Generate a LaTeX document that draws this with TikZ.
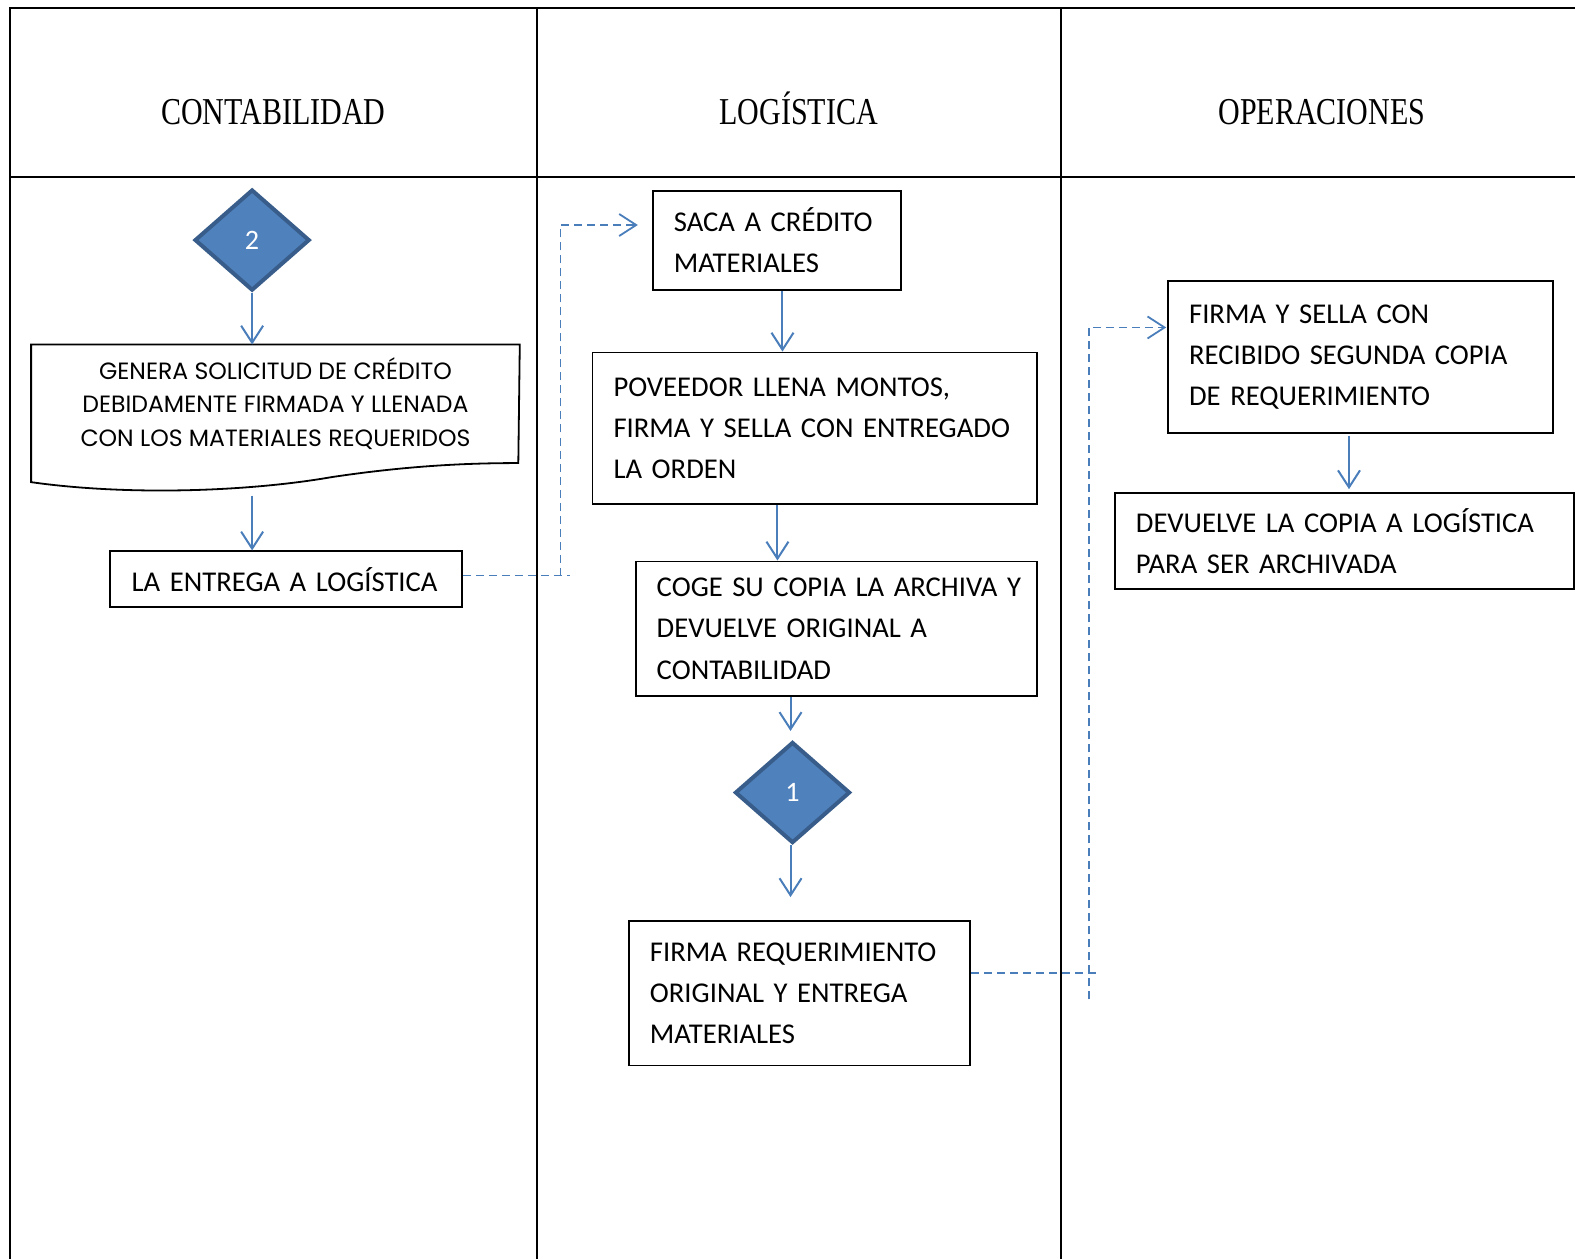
\documentclass[tikz,border=0pt]{standalone}
\usepackage{fontspec}
\setmainfont{Carlito}
\newfontfamily\headfont{Liberation Serif}
\newfontfamily\gothfont{Poppins}
\usetikzlibrary{arrows.meta,shapes.geometric,calc}
\definecolor{dfill}{HTML}{4F81BD}
\definecolor{dborder}{HTML}{385D8A}
\definecolor{ablue}{HTML}{4A7EBB}
\newcommand{\oneline}[1]{\mbox{#1}}
\begin{document}
\begin{tikzpicture}[x=0.010045cm,y=-0.010045cm,
  frame/.style={line width=0.02cm,black},
  box/.style={draw,line width=0.018cm,anchor=north west,inner xsep=0.21cm,inner ysep=0pt,align=left,
    font=\fontsize{8.15}{11.72}\selectfont},
  head/.style={anchor=base,font=\headfont\fontsize{10.8}{13}\selectfont},
  dec/.style={diamond,aspect=1.14,fill=dfill,draw=dborder,line width=0.04cm,minimum width=1.15cm,minimum height=1.01cm,inner sep=0pt,
    text=white,font=\fontsize{8}{9}\selectfont},
  arr/.style={draw=ablue,line width=0.02cm,-{Straight Barb[length=0.17cm,width=0.22cm]}},
  dline/.style={draw=ablue,line width=0.018cm,dash pattern=on 0.08cm off 0.05cm},
  darr/.style={dline,-{Straight Barb[length=0.17cm,width=0.22cm]}}
]
\useasboundingbox (0,0) rectangle (1568,1253.4);
% frame
\draw[frame] (1568,8) -- (10,8) -- (10,1253.4);
\draw[frame] (10,176) -- (1568,176);
\draw[frame] (535,8) -- (535,1253.4);
\draw[frame] (1056,8) -- (1056,1253.4);
% headers
\node[head] (h1) at (272,124) {\scalebox{0.79}[1]{CONTABILIDAD}};
\node[head] (h2) at (795,124) {\scalebox{0.79}[1]{LOGÍSTICA}};
\node[head] (h3) at (1316,124) {\scalebox{0.79}[1]{OPERACIONES}};
% contabilidad
\node[dec] (d2) at (251,239) {2};
\node[anchor=north west,minimum width=4.87cm,minimum height=1.165cm,inner sep=0pt,align=center,
  font=\gothfont\fontsize{6.7}{9.57}\selectfont] (gen) at (31,343)
  {GENERA SOLICITUD DE CRÉDITO\\DEBIDAMENTE FIRMADA Y LLENADA\\CON LOS MATERIALES REQUERIDOS};
\draw[line width=0.018cm] (gen.north west) -- (gen.north east) -- (516,461)
  .. controls (470,461) and (410,463) .. (330,475)
  .. controls (250,489) and (130,494) .. (31,480) -- cycle;
\node[box,minimum width=3.515cm,minimum height=0.56cm,text width=3.09cm] (ent) at (109,548) {\oneline{LA ENTREGA A LOGÍSTICA}};
% logistica
\node[box,minimum width=2.48cm,minimum height=0.995cm,text width=2.06cm] (saca) at (649,189) {\oneline{SACA A CRÉDITO}\\\oneline{MATERIALES}};
\node[box,minimum width=4.44cm,minimum height=1.515cm,text width=4.02cm] (pov) at (589,350) {\oneline{POVEEDOR LLENA MONTOS,}\\\oneline{FIRMA Y SELLA CON ENTREGADO}\\\oneline{LA ORDEN}};
\node[box,minimum width=4.01cm,minimum height=1.345cm,text width=3.59cm] (coge) at (632,558) {\oneline{COGE SU COPIA LA ARCHIVA Y}\\\oneline{DEVUELVE ORIGINAL A}\\\oneline{CONTABILIDAD}};
\node[dec] (d1) at (789,789) {1};
\node[box,minimum width=3.415cm,minimum height=1.445cm,text width=2.99cm] (firma) at (625,916) {\oneline{FIRMA REQUERIMIENTO}\\\oneline{ORIGINAL Y ENTREGA}\\\oneline{MATERIALES}};
% operaciones
\node[box,minimum width=3.85cm,minimum height=1.515cm,text width=3.43cm] (fys) at (1162,279) {\oneline{FIRMA Y SELLA CON}\\\oneline{RECIBIDO SEGUNDA COPIA}\\\oneline{DE REQUERIMIENTO}};
\node[box,minimum width=4.59cm,minimum height=0.955cm,text width=4.17cm] (dev) at (1109,490) {\oneline{DEVUELVE LA COPIA A LOGÍSTICA}\\\oneline{PARA SER ARCHIVADA}};
% coordinates
\coordinate (xa) at (779,0);
\coordinate (xb) at (774,0);
\coordinate (xc) at (787,0);
\coordinate (xd) at (1343,0);
\coordinate (v1) at (558,573);
\coordinate (v1end) at (567,573);
\coordinate (in1) at (635,224);
\coordinate (v2) at (1084,995);
\coordinate (v2end) at (1094,969);
\coordinate (in2) at (1161,326);
% connectors
\draw[arr] (d2.south) -- (d2.south |- gen.north);
\draw[arr] ([yshift=-0.33cm]d2.south |- gen.south) -- (d2.south |- ent.north);
\draw[dline] (ent.east |- v1) -- (v1end);
\draw[darr] (v1) |- (in1);
\draw[arr] (saca.south -| xa) -- (pov.north -| xa);
\draw[arr] (pov.south -| xb) -- (coge.north -| xb);
\draw[arr,shorten >=0.09cm] (coge.south -| xc) -- (d1.north -| xc);
\draw[arr,shorten >=0.23cm] (d1.south -| xc) -- (firma.north -| xc);
\draw[dline] (firma.east |- v2end) -- (v2end);
\draw[darr] (v2) |- (in2);
\draw[arr] ([yshift=-0.02cm]fys.south -| xd) -- ([yshift=0.03cm]dev.north -| xd);
\end{tikzpicture}
\end{document}
